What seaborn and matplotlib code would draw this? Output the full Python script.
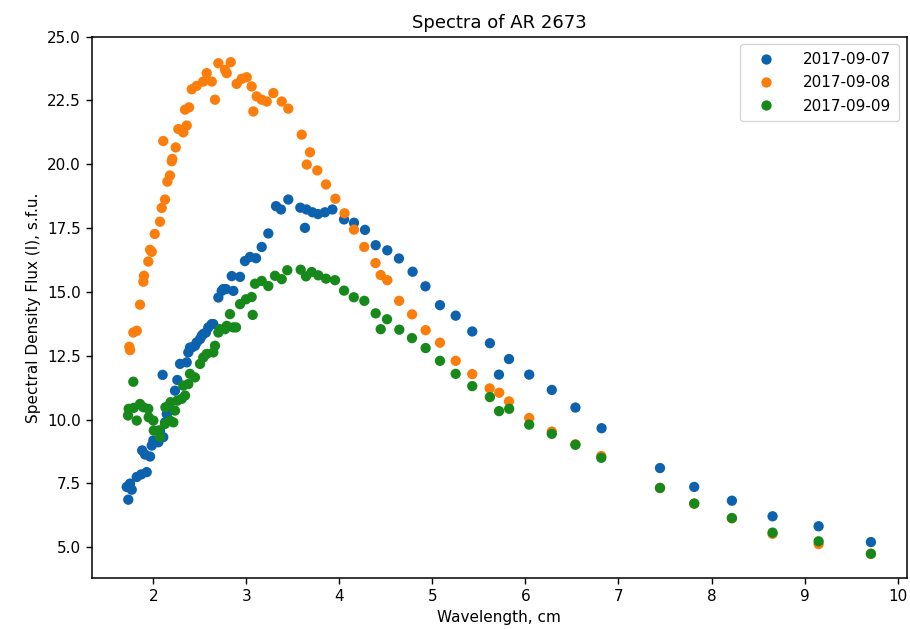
import numpy as np
import pandas as pd
import matplotlib
matplotlib.use("Agg")
import matplotlib.pyplot as plt
import seaborn as sns

# ---------------- data ----------------
dates = ["2017-09-07", "2017-09-08", "2017-09-09"]

wl_0907 = [1.714, 1.731, 1.750, 1.768, 1.822, 1.870, 1.880, 1.911, 1.929, 1.965,
           1.983, 2.000, 2.054, 2.072, 2.100, 2.107, 2.126, 2.144, 2.179, 2.233,
           2.258, 2.287, 2.359, 2.376, 2.394, 2.413, 2.448, 2.466, 2.502, 2.520,
           2.537, 2.566, 2.591, 2.628, 2.645, 2.699, 2.735, 2.752, 2.781, 2.843,
           2.860, 2.932, 2.985, 3.039, 3.104, 3.165, 3.236, 3.319, 3.372, 3.451,
           3.580, 3.630, 3.646, 3.710, 3.770, 3.845, 3.925, 4.050, 4.157, 4.275,
           4.390, 4.515, 4.640, 4.787, 4.925, 5.081, 5.250, 5.428, 5.618, 5.715,
           5.823, 6.040, 6.283, 6.537, 6.818, 7.446, 7.814, 8.219, 8.656, 9.151,
           9.713]
flux_0907 = [7.36, 6.86, 7.49, 7.25, 7.75, 7.85, 8.79, 8.63, 7.94, 8.55,
             8.98, 9.18, 9.11, 9.57, 11.75, 9.31, 9.89, 10.22, 10.35, 11.13,
             11.55, 12.18, 12.24, 12.63, 12.82, 12.82, 12.89, 13.02, 13.15, 13.28,
             13.35, 13.41, 13.61, 13.74, 13.74, 14.78, 15.04, 15.11, 15.11, 15.62,
             15.04, 15.59, 16.21, 16.37, 16.32, 16.76, 17.29, 18.36, 18.23, 18.62,
             18.30, 17.51, 18.23, 18.12, 18.05, 18.12, 18.23, 17.84, 17.71, 17.43,
             16.83, 16.63, 16.31, 15.79, 15.22, 14.48, 14.07, 13.45, 12.99, 11.76,
             12.37, 11.76, 11.16, 10.47, 9.66, 8.10, 7.36, 6.82, 6.21, 5.82,
             5.20]

wl_0908 = [1.742, 1.750, 1.785, 1.822, 1.857, 1.893, 1.900, 1.946, 1.965, 1.983,
           2.015, 2.072, 2.090, 2.107, 2.126, 2.151, 2.179, 2.198, 2.204, 2.241,
           2.269, 2.322, 2.341, 2.359, 2.384, 2.413, 2.466, 2.537, 2.574, 2.628,
           2.663, 2.699, 2.771, 2.789, 2.832, 2.896, 2.950, 3.004, 3.057, 3.075,
           3.111, 3.165, 3.219, 3.290, 3.380, 3.451, 3.595, 3.649, 3.684, 3.763,
           3.856, 3.957, 4.055, 4.157, 4.267, 4.388, 4.444, 4.515, 4.642, 4.781,
           4.927, 5.081, 5.250, 5.428, 5.615, 5.718, 5.823, 6.040, 6.283, 6.537,
           6.815, 7.446, 7.814, 8.219, 8.656, 9.151, 9.713]
flux_0908 = [12.85, 12.72, 13.41, 13.48, 14.50, 15.40, 15.63, 16.19, 16.65, 16.57,
             17.27, 17.75, 18.29, 20.91, 18.62, 19.32, 19.56, 20.12, 20.21, 20.66,
             21.38, 21.25, 22.14, 21.52, 22.23, 22.94, 23.07, 23.24, 23.57, 23.24,
             22.53, 23.96, 23.70, 23.57, 24.00, 23.15, 23.35, 23.41, 23.05, 22.07,
             22.66, 22.53, 22.46, 22.79, 22.46, 22.18, 21.16, 19.99, 20.47, 19.76,
             19.21, 18.65, 18.08, 17.44, 16.76, 16.13, 15.66, 15.46, 14.65, 14.12,
             13.50, 13.01, 12.30, 11.78, 11.22, 11.05, 10.71, 10.06, 9.53, 9.03,
             8.57, 7.32, 6.70, 6.13, 5.52, 5.12, 4.74]

wl_0909 = [1.728, 1.735, 1.785, 1.790, 1.822, 1.857, 1.893, 1.946, 1.950, 2.000,
           2.005, 2.054, 2.072, 2.126, 2.130, 2.179, 2.185, 2.215, 2.233, 2.258,
           2.305, 2.322, 2.341, 2.376, 2.394, 2.448, 2.502, 2.537, 2.574, 2.645,
           2.663, 2.699, 2.717, 2.771, 2.789, 2.824, 2.860, 2.889, 2.932, 2.996,
           3.057, 3.068, 3.093, 3.165, 3.236, 3.308, 3.380, 3.440, 3.584, 3.641,
           3.702, 3.773, 3.856, 3.953, 4.050, 4.155, 4.268, 4.390, 4.444, 4.512,
           4.644, 4.780, 4.927, 5.081, 5.250, 5.428, 5.618, 5.716, 5.825, 6.040,
           6.283, 6.537, 6.815, 7.446, 7.814, 8.219, 8.656, 9.151, 9.713]
flux_0909 = [10.16, 10.42, 11.48, 10.46, 9.96, 10.61, 10.48, 10.42, 10.09, 9.96,
             9.57, 9.57, 9.31, 9.83, 10.48, 9.96, 10.68, 9.89, 10.35, 10.74,
             10.81, 11.33, 10.94, 11.39, 11.79, 11.65, 12.18, 12.43, 12.57, 12.63,
             12.89, 13.41, 13.54, 13.54, 13.67, 14.13, 13.61, 13.61, 14.52, 14.71,
             14.80, 14.10, 15.32, 15.43, 15.23, 15.63, 15.50, 15.85, 15.87, 15.61,
             15.78, 15.65, 15.52, 15.46, 15.05, 14.79, 14.65, 14.16, 13.54, 13.93,
             13.52, 13.19, 12.80, 12.30, 11.79, 11.31, 10.88, 10.33, 10.42, 9.80,
             9.44, 9.01, 8.50, 7.32, 6.71, 6.14, 5.57, 5.23, 4.74]

colors = ["#0d62ad", "#fb7d0c", "#17891a"]

# ---------------- build table ----------------
frames = []
for d, wl, fl in zip(dates, [wl_0907, wl_0908, wl_0909],
                     [flux_0907, flux_0908, flux_0909]):
    frames.append(pd.DataFrame({"wavelength": wl, "flux": fl, "date": d}))
df = pd.concat(frames, ignore_index=True)

# ---------------- plot ----------------
fig = plt.figure(figsize=(9.1, 6.29), dpi=100)
ax = fig.add_axes([0.1008, 0.0806, 0.8955, 0.8611])

sns.scatterplot(data=df, x="wavelength", y="flux", hue="date",
                hue_order=dates, palette=colors, s=55, linewidth=0,
                ax=ax, legend=True)

ax.set_xlim(1.338, 10.097)
ax.set_ylim(3.78, 24.96)
ax.set_xticks([2, 3, 4, 5, 6, 7, 8, 9, 10])
ax.set_yticks([5.0, 7.5, 10.0, 12.5, 15.0, 17.5, 20.0, 22.5, 25.0])
ax.set_yticklabels(["5.0", "7.5", "10.0", "12.5", "15.0", "17.5", "20.0", "22.5", "25.0"])
ax.tick_params(labelsize=11, length=4.5, width=1)
for sp in ax.spines.values():
    sp.set_linewidth(1.1)

ax.set_xlabel("Wavelength, cm", fontsize=11)
ax.set_ylabel("Spectral Density Flux (I), s.f.u.", fontsize=11)
ax.set_title("Spectra of AR 2673", fontsize=13)

handles, labels = ax.get_legend_handles_labels()
ax.legend(handles, labels, loc="upper right", fontsize=11, frameon=True,
          markerscale=1.0, handlelength=2.4, handletextpad=1.2,
          borderpad=0.5, labelspacing=0.55)

fig.savefig("out.png", dpi=100)
